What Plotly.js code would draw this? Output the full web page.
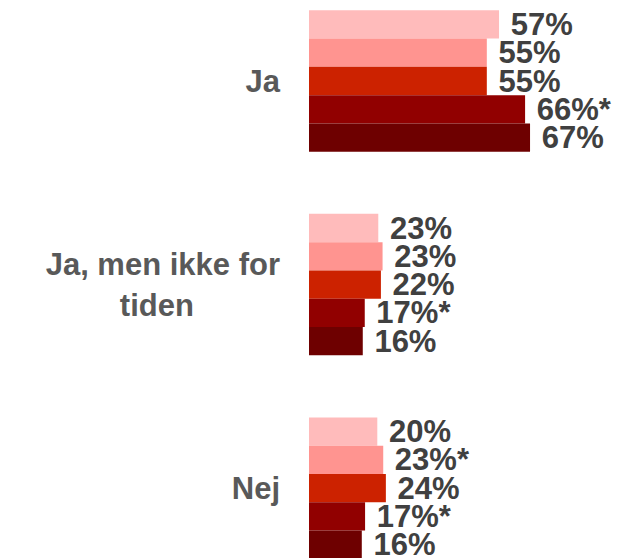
<!DOCTYPE html>
<html><head><meta charset="utf-8">
<script src="https://cdn.plot.ly/plotly-3.0.1.min.js"></script>
<style>html,body{margin:0;padding:0;background:#fff}#chart{width:630px;height:558px}</style>
</head><body><div id="chart"></div>
<script>
var categories = ['Ja', 'Ja, men ikke for<br>tiden' + '\u00A0'.repeat(10), 'Nej'];
var seriesNames = ['S1', 'S2', 'S3', 'S4', 'S5'];
var seriesColors = ['#FFBBBB', '#FF9490', '#CC2200', '#910000', '#6E0000'];
// values
var s1 = [57.6, 21.0, 20.7];
var s2 = [53.9, 22.3, 22.5];
var s3 = [53.9, 21.8, 23.3];
var s4 = [65.5, 16.9, 17.0];
var s5 = [67.0, 16.3, 16.0];
// printed labels
var t1 = ['57%', '23%', '20%'];
var t2 = ['55%', '23%', '23%*'];
var t3 = ['55%', '22%', '24%'];
var t4 = ['66%*', '17%*', '17%*'];
var t5 = ['67%', '16%', '16%'];

var vals = [s1, s2, s3, s4, s5];
var txts = [t1, t2, t3, t4, t5];
var traces = vals.map(function (v, i) {
  return {
    type: 'bar', orientation: 'h', name: seriesNames[i],
    y: categories, x: v,
    text: txts[i].map(function (t) { return '\u00A0' + t; }),
    textposition: 'outside', constraintext: 'none', cliponaxis: false,
    textfont: {family: 'Liberation Sans, Arial, sans-serif', size: 31, color: '#404040', weight: 'bold'},
    marker: {color: seriesColors[i], line: {width: 0}},
    hoverinfo: 'none'
  };
});
var layout = {
  width: 630, height: 558,
  margin: {l: 309, r: 0, t: 0, b: 0, pad: 0},
  barmode: 'group', bargap: 0.305, bargroupgap: 0,
  showlegend: false,
  paper_bgcolor: '#fff', plot_bgcolor: '#fff',
  xaxis: {range: [0, 97.3], visible: false, showgrid: false, zeroline: false},
  yaxis: {type: 'category', range: [2.343, -0.398], showgrid: false, zeroline: false, showline: false,
    ticks: '', ticklabelstandoff: 28,
    tickfont: {family: 'Liberation Sans, Arial, sans-serif', size: 31, color: '#595959', weight: 'bold'}},
  font: {family: 'Liberation Sans, Arial, sans-serif'}
};
Plotly.newPlot('chart', traces, layout, {staticPlot: true, displayModeBar: false});
</script></body></html>
